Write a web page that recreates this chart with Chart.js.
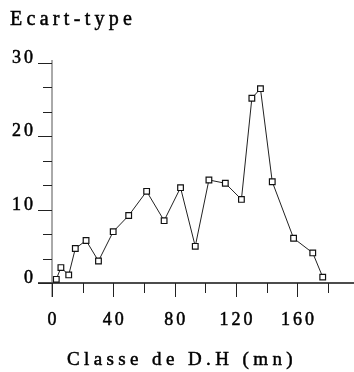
<!DOCTYPE html>
<html>
<head>
<meta charset="utf-8">
<script src="https://cdn.jsdelivr.net/npm/chart.js@4"></script>
<style>
  html, body { margin: 0; padding: 0; background: #fff; }
  #wrap { width: 354px; height: 372px; }
</style>
</head>
<body>
<div id="wrap"><canvas id="sdChart"></canvas></div>
<script>
// class centres (D.H, mn) and standard deviation
const classes = [2.8, 5.8, 10.9, 15.2, 22.2, 30.3, 39.9, 50, 61.7, 73.1, 83.8, 93.4,
                 102.3, 113, 123.5, 130.3, 135.9, 143.6, 157.5, 170, 176.5];
const ecartType = [0.5, 2.1, 1.1, 4.7, 5.8, 3.0, 7.0, 9.2, 12.5, 8.5, 13.0, 5.0,
                   14.05, 13.6, 11.4, 25.2, 26.5, 13.8, 6.1, 4.1, 0.8];
const xLabels = [0, 40, 80, 120, 160];
const xMinor = [20, 60, 100, 140, 180];
const yLabels = [0, 10, 20, 30];
const yMinor = [10 / 3, 20 / 3, 40 / 3, 50 / 3, 70 / 3, 80 / 3];

const serif = '"Liberation Serif", "DejaVu Serif", serif';

// fill + thin stroke, the scanned text is a bit heavy
function heavyText(ctx, txt, x, y) {
  ctx.fillText(txt, x, y);
  ctx.strokeText(txt, x, y);
}

// draws the axes, ticks and texts the old plotter way
const axesPlugin = {
  id: 'axes',
  afterDraw(chart) {
    const ctx = chart.ctx;
    const xs = chart.scales.x, ys = chart.scales.y;
    const x0 = xs.getPixelForValue(0), y0 = ys.getPixelForValue(0);
    ctx.save();
    ctx.strokeStyle = '#111';
    ctx.fillStyle = '#000';

    // x axis
    ctx.lineWidth = 1.5;
    ctx.beginPath();
    ctx.moveTo(x0 - 14, y0);
    ctx.lineTo(chart.width, y0);
    ctx.stroke();
    // y axis
    ctx.lineWidth = 1;
    ctx.strokeStyle = '#555';
    ctx.beginPath();
    ctx.moveTo(x0, ys.getPixelForValue(30) - 3);
    ctx.lineTo(x0, y0 + 14);
    ctx.stroke();

    ctx.strokeStyle = '#222';
    yLabels.forEach(v => {
      const p = Math.round(ys.getPixelForValue(v)) + 0.5;
      ctx.beginPath(); ctx.moveTo(x0 - 14, p); ctx.lineTo(x0, p); ctx.stroke();
    });
    yMinor.forEach(v => {
      const p = Math.round(ys.getPixelForValue(v)) + 0.5;
      ctx.beginPath(); ctx.moveTo(x0 - 9, p); ctx.lineTo(x0, p); ctx.stroke();
    });
    xLabels.forEach(v => {
      const p = Math.round(xs.getPixelForValue(v)) + 0.5;
      ctx.beginPath(); ctx.moveTo(p, y0); ctx.lineTo(p, y0 + 14); ctx.stroke();
    });
    xMinor.forEach(v => {
      const p = Math.round(xs.getPixelForValue(v)) + 0.5;
      ctx.beginPath(); ctx.moveTo(p, y0); ctx.lineTo(p, y0 + 10); ctx.stroke();
    });

    // tick labels
    ctx.strokeStyle = '#000';
    ctx.lineWidth = 0.5;
    ctx.font = '18px ' + serif;
    ctx.letterSpacing = '3px';
    ctx.textBaseline = 'alphabetic';
    ctx.textAlign = 'right';
    yLabels.forEach(v => {
      heavyText(ctx, String(v), x0 - 16, ys.getPixelForValue(v));
    });
    ctx.textAlign = 'center';
    xLabels.forEach(v => {
      heavyText(ctx, String(v), xs.getPixelForValue(v) + 1.5, y0 + 42);
    });

    // titles
    ctx.font = '20px ' + serif;
    ctx.letterSpacing = '4.3px';
    ctx.textAlign = 'left';
    heavyText(ctx, 'Ecart-type', 10, 25);
    ctx.font = '19px ' + serif;
    ctx.letterSpacing = '4.4px';
    ctx.textAlign = 'center';
    heavyText(ctx, 'Classe de D.H (mn)', 182, 365);
    ctx.restore();
  }
};

new Chart(document.getElementById('sdChart'), {
  type: 'scatter',
  data: {
    datasets: [{
      label: 'Ecart-type',
      data: classes.map((c, i) => ({ x: c, y: ecartType[i] })),
      showLine: true,
      borderColor: '#222',
      borderWidth: 1,
      pointStyle: 'rect',
      pointRadius: 4,
      pointBackgroundColor: '#fff',
      pointBorderColor: '#111',
      pointBorderWidth: 1.2
    }]
  },
  options: {
    responsive: true,
    maintainAspectRatio: false,
    animation: false,
    layout: { padding: { left: 52, top: 63, right: 0, bottom: 89 } },
    plugins: { legend: { display: false }, tooltip: { enabled: false } },
    scales: {
      x: { type: 'linear', min: 0, max: 193.5, display: false },
      y: { type: 'linear', min: 0, max: 30, display: false }
    }
  },
  plugins: [axesPlugin]
});
</script>
</body>
</html>
